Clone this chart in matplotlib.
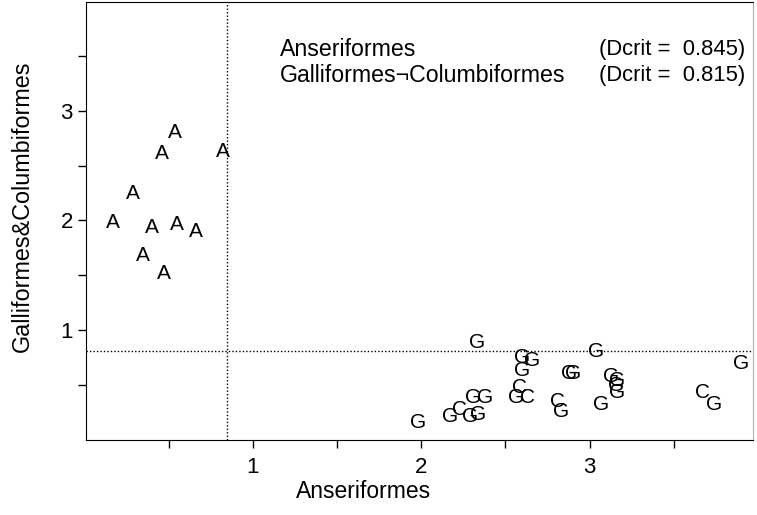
import matplotlib.pyplot as plt
from matplotlib.ticker import FixedLocator

plt.rcParams['font.family'] = ['Liberation Sans', 'DejaVu Sans']

# discriminant scores, one letter per specimen
a_x = [0.17, 0.29, 0.40, 0.46, 0.54, 0.55, 0.66, 0.35, 0.47, 0.82]
a_y = [1.98, 2.25, 1.94, 2.61, 2.80, 1.96, 1.90, 1.68, 1.52, 2.63]

g_x = [2.33, 2.60, 2.66, 2.60, 2.88, 2.90, 2.565, 2.31, 2.38, 2.17, 2.29,
       2.34, 1.98, 2.83, 3.04, 3.90, 3.13, 3.16, 3.155, 3.16, 3.07, 3.74]
g_y = [0.89, 0.75, 0.72, 0.63, 0.61, 0.61, 0.39, 0.39, 0.39, 0.21, 0.21,
       0.23, 0.16, 0.26, 0.81, 0.70, 0.58, 0.54, 0.50, 0.43, 0.32, 0.32]

c_x = [2.585, 2.63, 2.23, 2.81, 3.67]
c_y = [0.48, 0.39, 0.28, 0.35, 0.43]

dcrit_x = 0.845
dcrit_y = 0.815
tick_vals = [1, 2, 3]
minor_vals = [0.5, 1.5, 2.5, 3.5]
legend_names = ['Anseriformes', 'Galliformes\u00acColumbiformes']
legend_vals = ['(Dcrit =  0.845)', '(Dcrit =  0.815)']

fig = plt.figure(figsize=(7.57, 5.15), dpi=100)
ax = fig.add_axes([86 / 757, 75 / 515, 667 / 757, 438 / 515])

for xs, ys, letter in [(a_x, a_y, 'A'), (g_x, g_y, 'G'), (c_x, c_y, 'C')]:
    for x, y in zip(xs, ys):
        ax.text(x, y, letter, fontsize=15, ha='center', va='center')

ax.axvline(dcrit_x, color='black', ls=(0, (1, 1.5)), lw=1)
ax.axhline(dcrit_y, color='black', ls=(0, (1, 1.5)), lw=1)

ax.set_xlim(0.01, 3.97)
ax.set_ylim(0.0, 3.99)
ax.xaxis.set_major_locator(FixedLocator(tick_vals))
ax.xaxis.set_minor_locator(FixedLocator(minor_vals))
ax.yaxis.set_major_locator(FixedLocator(tick_vals))
ax.yaxis.set_minor_locator(FixedLocator(minor_vals))
ax.tick_params(which='both', direction='out', length=6, width=1, labelsize=16)
ax.tick_params(axis='x', pad=6)

ax.spines['right'].set_color('#b0b0b0')
ax.spines['right'].set_linewidth(0.8)

fig.text(364 / 757, 1 - 492 / 515, 'Anseriformes', fontsize=16.5,
         ha='center', va='center')
fig.text(22 / 757, 1 - 206 / 515, 'Galliformes&Columbiformes', fontsize=16.8,
         ha='center', va='center', rotation=90)

for i in range(2):
    yy = 1 - (49 + 27 * i) / 515
    fig.text(280 / 757, yy, legend_names[i], fontsize=16.7, ha='left', va='center')
    fig.text(745 / 757, yy, legend_vals[i], fontsize=15.8, ha='right', va='center')

fig.savefig('out.png', dpi=100)
